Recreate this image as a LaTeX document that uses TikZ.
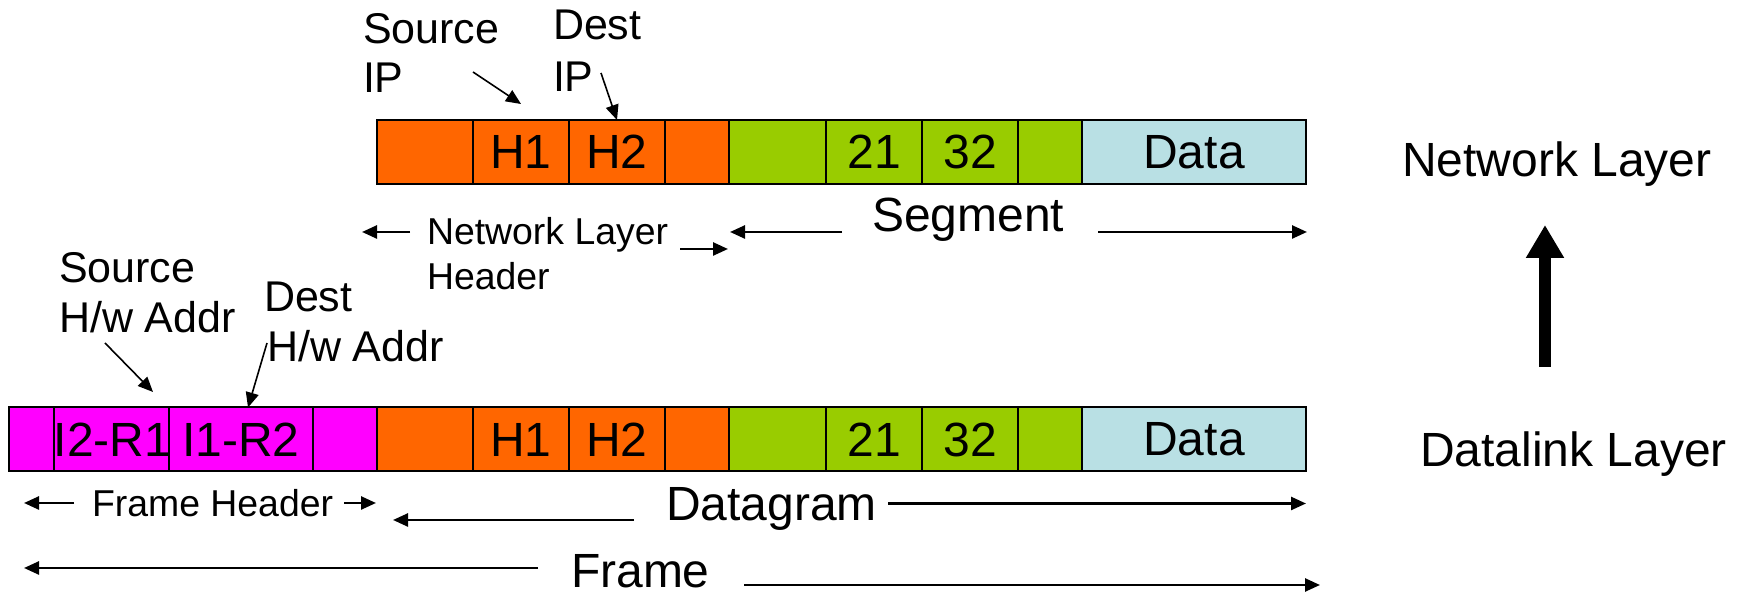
\documentclass[tikz,border=0pt]{standalone}
\usepackage{fontspec}
\setmainfont{Liberation Sans}
\usetikzlibrary{arrows.meta}
\definecolor{hdrorange}{HTML}{FF6600}
\definecolor{tcpgreen}{HTML}{99CC00}
\definecolor{datablue}{HTML}{B9E0E4}
\definecolor{frmagenta}{HTML}{FF00FF}
\newcommand{\bigfnt}{\fontsize{24}{28}\selectfont}
\newcommand{\midfnt}{\fontsize{21.5}{25}\selectfont}
\newcommand{\smlfnt}{\fontsize{18.7}{22}\selectfont}
\begin{document}
\begin{tikzpicture}[x=0.5pt,y=-0.5pt,
  cell/.style={draw=black, line width=1pt, inner sep=0pt, outer sep=0pt,
               minimum height=32pt, anchor=center, font=\bigfnt},
  biglbl/.style={inner sep=0pt, outer sep=0pt, anchor=base west, font=\bigfnt},
  midlbl/.style={inner sep=0pt, outer sep=0pt, anchor=base west, font=\midfnt},
  smllbl/.style={inner sep=0pt, outer sep=0pt, anchor=base west, font=\smlfnt},
  dimarrow/.style={line width=1.25pt, -{Triangle[length=7.5pt,width=6.5pt]}},
  ptr/.style={line width=0.8pt, -{Triangle[length=7.5pt,width=6.5pt]}},
  bigarrow/.style={line width=6pt, -{Triangle[length=16.5pt,width=18pt]}}]
\useasboundingbox (0,0) rectangle (1752,597);

% ---- top row (segment inside network layer packet)
\node[cell, fill=hdrorange, minimum width=48.25pt] (t1) at (424.75,152) {};
\node[cell, fill=hdrorange, minimum width=48pt]    (t2) at (521,152) {H1};
\node[cell, fill=hdrorange, minimum width=48pt]    (t3) at (617,152) {H2};
\node[cell, fill=hdrorange, minimum width=32pt]    (t4) at (697,152) {};
\node[cell, fill=tcpgreen, minimum width=48.5pt]   (t5) at (777.5,152) {};
\node[cell, fill=tcpgreen, minimum width=48pt]     (t6) at (874,152) {21};
\node[cell, fill=tcpgreen, minimum width=48pt]     (t7) at (970,152) {32};
\node[cell, fill=tcpgreen, minimum width=32pt]     (t8) at (1050,152) {};
\node[cell, fill=datablue, minimum width=112pt]    (t9) at (1194,152) {Data};

% ---- bottom row (frame)
\node[cell, fill=frmagenta, minimum width=23.75pt] (b1) at (32.25,439.5) {};
\node[cell, fill=frmagenta, minimum width=56.5pt]  (b2) at (112.5,439.5) {I2-R1};
\node[cell, fill=frmagenta, minimum width=72pt]    (b3) at (241,439.5) {I1-R2};
\node[cell, fill=frmagenta, minimum width=32pt]    (b4) at (345,439.5) {};
\node[cell, fill=hdrorange, minimum width=48.25pt] (b5) at (424.75,439.5) {};
\node[cell, fill=hdrorange, minimum width=48pt]    (b6) at (521,439.5) {H1};
\node[cell, fill=hdrorange, minimum width=48pt]    (b7) at (617,439.5) {H2};
\node[cell, fill=hdrorange, minimum width=32pt]    (b8) at (697,439.5) {};
\node[cell, fill=tcpgreen, minimum width=48.5pt]   (b9) at (777.5,439.5) {};
\node[cell, fill=tcpgreen, minimum width=48pt]     (b10) at (874,439.5) {21};
\node[cell, fill=tcpgreen, minimum width=48pt]     (b11) at (970,439.5) {32};
\node[cell, fill=tcpgreen, minimum width=32pt]     (b12) at (1050,439.5) {};
\node[cell, fill=datablue, minimum width=112pt]    (b13) at (1194,439.5) {Data};

% ---- labels above top row
\node[midlbl] (srcip1) at (363,44) {Source};
\node[midlbl] (srcip2) at (363,93) {IP};
\node[midlbl] (dstip1) at (553,40) {Dest};
\node[midlbl] (dstip2) at (553,92) {IP};
\coordinate (sipA) at (473,72);
\coordinate (sipB) at (521,104);
\coordinate (dipA) at (601,73);
\draw[ptr] (sipA) -- (sipB);
\draw[ptr] (dipA) -- (t3.north);

% ---- labels above bottom row
\node[midlbl] (srchw1) at (59,283) {Source};
\node[midlbl] (srchw2) at (59,333) {H/w Addr};
\node[midlbl] (dsthw1) at (264,312) {Dest};
\node[midlbl] (dsthw2) at (267,362) {H/w Addr};
\coordinate (shwA) at (105,343);
\coordinate (shwB) at (153,392);
\coordinate (dhwA) at (267,343);
\draw[ptr] (shwA) -- (shwB);
\draw[ptr] (dhwA) -- ([xshift=3.5pt]b3.north);

% ---- network layer header / segment
\node[smllbl] (nlh1) at (427,245) {Network Layer};
\node[smllbl] (nlh2) at (427,290) {Header};
\coordinate (nlhL1) at (410,232); \coordinate (nlhL2) at (362,232);
\coordinate (nlhR1) at (680,249); \coordinate (nlhR2) at (728,249);
\draw[dimarrow] (nlhL1) -- (nlhL2);
\draw[dimarrow] (nlhR1) -- (nlhR2);
\node[biglbl] (seg) at (872,232) {Segment};
\coordinate (segL1) at (842,232); \coordinate (segL2) at (730,232);
\coordinate (segR1) at (1098,232); \coordinate (segR2) at (1307,232);
\draw[dimarrow] (segL1) -- (segL2);
\draw[dimarrow] (segR1) -- (segR2);

% ---- frame header / datagram / frame
\node[smllbl] (fh) at (92,516.5) {Frame Header};
\coordinate (fhL1) at (74,503); \coordinate (fhL2) at (24,503);
\coordinate (fhR1) at (344,503); \coordinate (fhR2) at (376,503);
\draw[dimarrow] (fhL1) -- (fhL2);
\draw[dimarrow] (fhR1) -- (fhR2);
\node[biglbl] (dg) at (666,521) {Datagram};
\coordinate (dgL1) at (634,520); \coordinate (dgL2) at (393,520);
\coordinate (dgR1) at (888,503.5); \coordinate (dgR2) at (1306,503.5);
\draw[dimarrow] (dgL1) -- (dgL2);
\draw[dimarrow] (dgR1) -- (dgR2);
\node[biglbl] (fr) at (571,588) {Frame};
\coordinate (frL1) at (538,568); \coordinate (frL2) at (24,568);
\coordinate (frR1) at (744,585); \coordinate (frR2) at (1320,585);
\draw[dimarrow] (frL1) -- (frL2);
\draw[dimarrow] (frR1) -- (frR2);

% ---- layers on the right
\node[biglbl] (netl) at (1402,177) {Network Layer};
\node[biglbl] (dll) at (1420,467) {Datalink Layer};
\coordinate (upA) at (1545,367);
\coordinate (upB) at (1545,225);
\draw[bigarrow] (upA) -- (upB);
\end{tikzpicture}
\end{document}
